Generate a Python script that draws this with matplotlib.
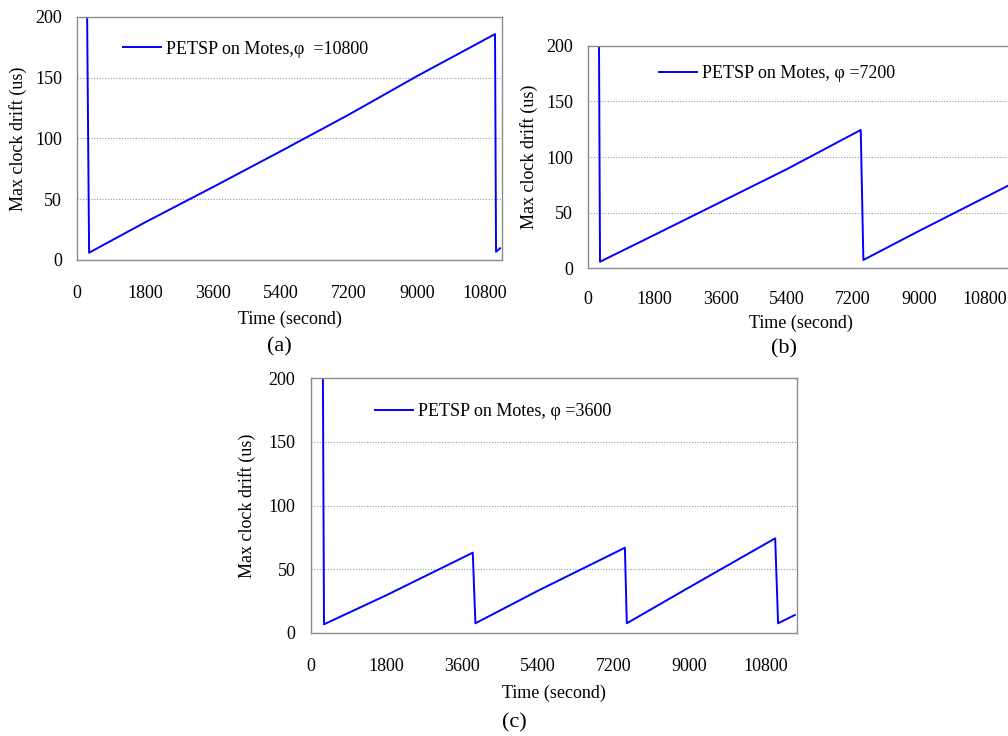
import matplotlib
matplotlib.use("Agg")
import matplotlib.pyplot as plt

plt.rcParams['font.family'] = ['Liberation Serif', 'DejaVu Serif']

# tick values shared by all three panels
x_ticks = [0, 1800, 3600, 5400, 7200, 9000, 10800]
y_ticks = [0, 50, 100, 150, 200]

# (a) phi = 10800
t_a = [260, 313, 1800, 3600, 5400, 7200, 9000, 11077, 11104, 11210]
v_a = [203, 6.0, 31, 60, 89.5, 119.5, 151, 185.7, 6.8, 9.6]

# (b) phi = 7200
t_b = [291, 319, 1800, 3600, 5400, 7416, 7488, 9000, 11425]
v_b = [203, 5.9, 30, 59.5, 89, 124.3, 7.5, 33.5, 74.2]

# (c) phi = 3600
t_c = [290, 316, 1800, 3851, 3913, 5400, 7465, 7510, 9000, 11036, 11105, 11502]
v_c = [203, 6.6, 29.5, 62.9, 7.4, 33, 66.8, 7.4, 35.8, 74.2, 7.4, 13.9]

labels = ['PETSP on Motes,\u03c6  =10800',
          'PETSP on Motes, \u03c6 =7200',
          'PETSP on Motes, \u03c6 =3600']

W, H = 1008, 736
fig = plt.figure(figsize=(W / 100, H / 100), dpi=100)
FS = 13


def px_axes(left, top, right, bottom):
    # axes rectangle given in image pixels
    return fig.add_axes([left / W, 1 - bottom / H, (right - left) / W, (bottom - top) / H])


def draw_panel(ax, t, v, xmax, label, leg_xy, xpad, xlabpad, ylabpad):
    ax.plot(t, v, color='#0000ff', lw=1.4, label=label)
    ax.set_xlim(0, xmax)
    ax.set_ylim(0, 200)
    ax.set_xticks(x_ticks)
    ax.set_yticks(y_ticks)
    ax.tick_params(length=0, labelsize=FS)
    ax.tick_params(axis='x', pad=xpad)
    ax.tick_params(axis='y', pad=11)
    for y in [50, 100, 150]:
        ax.axhline(y, color='#999999', lw=0.8, ls=(0, (1, 1.5)), zorder=0)
    for s in ax.spines.values():
        s.set_color('#8c8c8c')
        s.set_linewidth(1.0)
    ax.set_xlabel('Time (second)', fontsize=FS, labelpad=xlabpad)
    ax.set_ylabel('Max clock drift (us)', fontsize=FS, labelpad=ylabpad)
    ax.legend(loc='center left', bbox_to_anchor=leg_xy, frameon=False,
              fontsize=FS, handlelength=2.1, handletextpad=0.3,
              borderpad=0, borderaxespad=0)


ax_a = px_axes(77.3, 16.7, 502.3, 260)
draw_panel(ax_a, t_a, v_a, 11270, labels[0], (0.1075, 0.867), 18, 6, 6)

ax_b = px_axes(588.3, 45.7, 1012.6, 268.3)
draw_panel(ax_b, t_b, v_b, 11550, labels[1], (0.167, 0.873), 16, 5, 6)

ax_c = px_axes(310.7, 378.3, 796.7, 632.7)
draw_panel(ax_c, t_c, v_c, 11547, labels[2], (0.132, 0.869), 18, 7, 9)

fig.text(279 / W, 1 - 347 / H, '(a)', fontsize=16, ha='center', va='center')
fig.text(784 / W, 1 - 349 / H, '(b)', fontsize=16, ha='center', va='center')
fig.text(514 / W, 1 - 723 / H, '(c)', fontsize=16, ha='center', va='center')

fig.savefig('out.png', dpi=100)
